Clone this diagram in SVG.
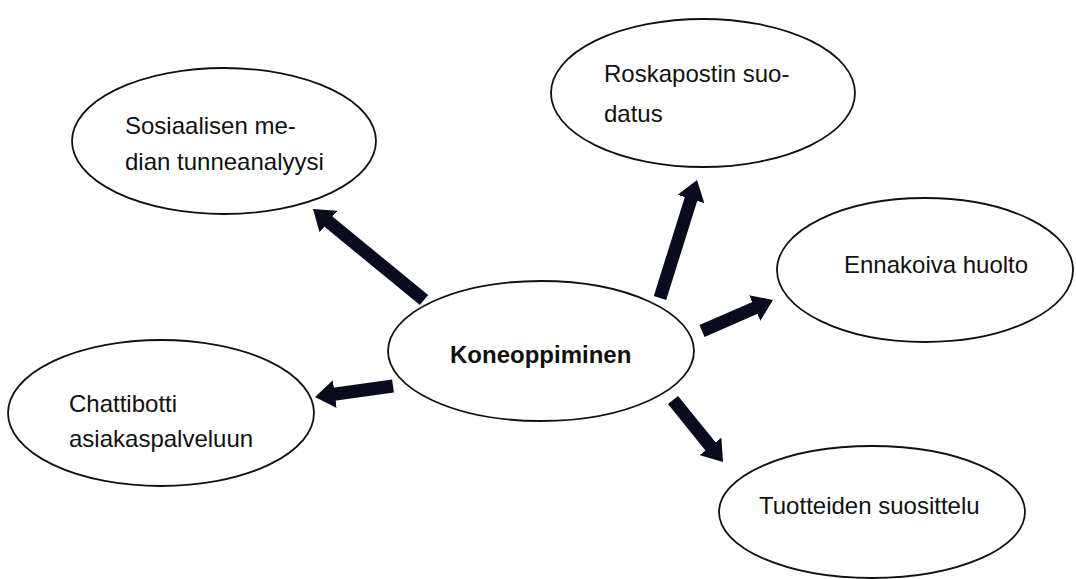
<svg xmlns="http://www.w3.org/2000/svg" width="1076" height="579" viewBox="0 0 1076 579">
<style>
.node ellipse{fill:#fff;stroke:#111;stroke-width:1.8}
.node text{font-family:"Liberation Sans",Arial,sans-serif;font-size:24px;fill:#111}
.node text.b{font-weight:bold}
.conn line{stroke:#0b0b1e;stroke-width:13;stroke-linecap:butt}
</style>
<defs>
<marker id="ah" viewBox="0 0 20 28" markerUnits="userSpaceOnUse" markerWidth="20" markerHeight="28" refX="1" refY="14" orient="auto">
<path d="M0,0 L20,14 L0,28 z" fill="#0b0b1e"/>
</marker>
</defs>
<rect width="1076" height="579" fill="#fff"/>
<g id="n-sosiaalisen" class="node">
<ellipse cx="224" cy="141" rx="152" ry="73"/>
<text x="125" y="134">Sosiaalisen me-</text>
<text x="125" y="170">dian tunneanalyysi</text>
</g>
<g id="n-roskaposti" class="node">
<ellipse cx="703" cy="93" rx="152" ry="74"/>
<text x="604" y="82">Roskapostin suo-</text>
<text x="604" y="122">datus</text>
</g>
<g id="n-ennakoiva" class="node">
<ellipse cx="925" cy="270" rx="148" ry="72"/>
<text x="844" y="273">Ennakoiva huolto</text>
</g>
<g id="n-chattibotti" class="node">
<ellipse cx="161" cy="413" rx="153" ry="73"/>
<text x="69" y="412">Chattibotti</text>
<text x="69" y="447">asiakaspalveluun</text>
</g>
<g id="n-tuotteiden" class="node">
<ellipse cx="872" cy="512" rx="153" ry="66"/>
<text x="759" y="514">Tuotteiden suosittelu</text>
</g>
<g id="n-koneoppiminen" class="node">
<ellipse cx="541" cy="351" rx="153" ry="70"/>
<text class="b" x="450" y="363">Koneoppiminen</text>
</g>
<g id="connectors" class="conn">
<line x1="424" y1="300" x2="327.7" y2="221" marker-end="url(#ah)"/>
<line x1="660" y1="298" x2="691.3" y2="198.1" marker-end="url(#ah)"/>
<line x1="702" y1="331" x2="755.6" y2="307.6" marker-end="url(#ah)"/>
<line x1="393" y1="386" x2="333.8" y2="394.3" marker-end="url(#ah)"/>
<line x1="673" y1="400" x2="711.1" y2="447.2" marker-end="url(#ah)"/>
</g>
</svg>
